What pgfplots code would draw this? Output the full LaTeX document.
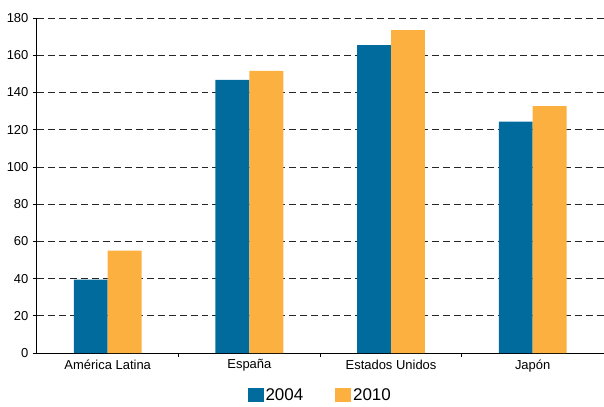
\documentclass[border=0pt]{standalone}
\usepackage{pgfplots}
\pgfplotsset{compat=1.18}
\usepackage{fontspec}
\setmainfont{Liberation Sans}
\definecolor{azul}{HTML}{006B9C}
\definecolor{naranja}{HTML}{FBB040}

\begin{document}
\begin{tikzpicture}
\begin{axis}[
  scale only axis,
  width=568pt, height=336pt,
  ymin=0, ymax=180, ytick={0,20,...,180},
  xmin=-0.5, xmax=3.5,
  xtick={0,1,2,3},
  xticklabels={América Latina, España, Estados Unidos, Japón},
  xtick style={draw=none},
  extra x ticks={0.5,1.5,2.5},
  extra x tick labels={},
  extra x tick style={xtick style={draw=black, line width=0.8pt}},
  axis lines*=left,
  axis line style={line width=1pt, black},
  tick align=outside,
  major tick length=4pt,
  ytick style={black, line width=0.8pt},
  ymajorgrids,
  grid style={black!85, line width=0.8pt, dash pattern=on 7pt off 4pt},
  /pgf/number format/assume math mode=true,
  tick label style={font=\fontsize{13}{15}\selectfont},
  yticklabel style={xshift=-1pt},
  xticklabel style={yshift=1pt},
  ybar=0pt, bar width=34pt,
  legend style={at={(0.5,-0.095)}, anchor=north, draw=none, legend columns=-1,
    font=\fontsize{17}{19}\selectfont,
    /tikz/every even column/.append style={column sep=30pt}},
  legend image code/.code={\fill[#1] (0pt,-6pt) rectangle (16pt,8pt);},
]
\addplot[fill=azul, draw=none] coordinates {(0,39.5) (1,146.7) (2,165.4) (3,124.3)};
\addplot[fill=naranja, draw=none] coordinates {(0,55) (1,151.6) (2,173.4) (3,132.7)};
\legend{2004,2010}
\end{axis}
\path (current axis.north east) ++(0pt,18pt);
\path (current axis.south west) ++(-37pt,0pt);
\end{tikzpicture}
\end{document}
